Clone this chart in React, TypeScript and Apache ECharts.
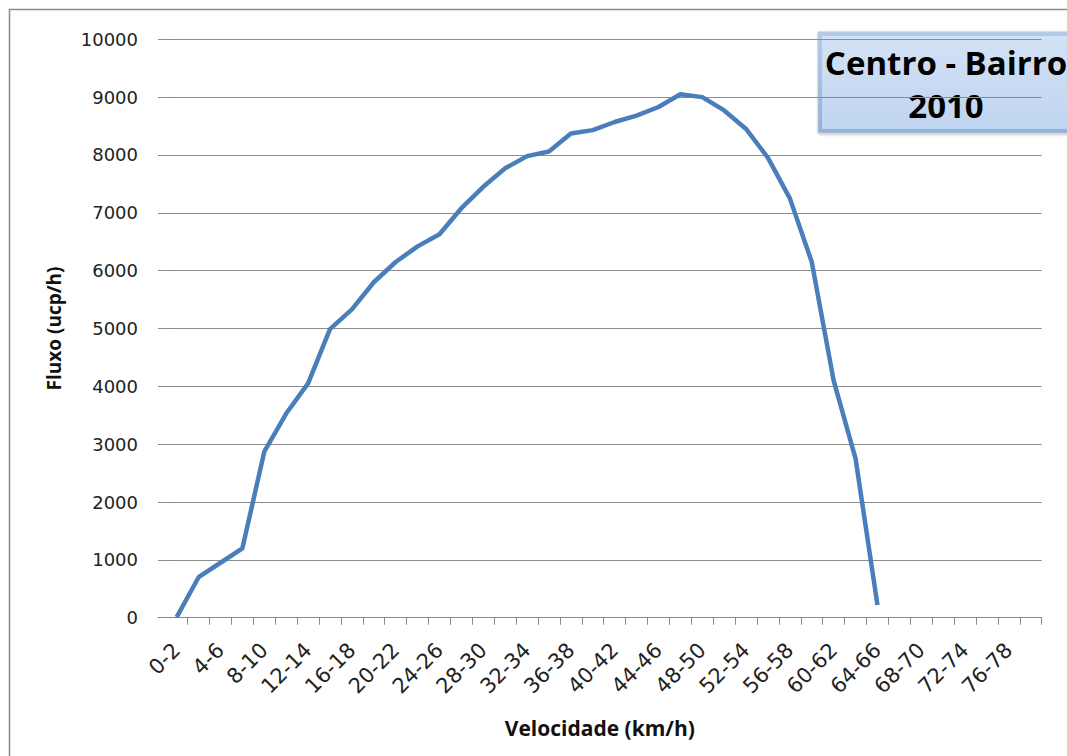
import React, { useEffect, useRef } from 'react';
import * as echarts from 'echarts';

const speedClasses = [
  '0-2', '2-4', '4-6', '6-8', '8-10', '10-12', '12-14', '14-16', '16-18', '18-20',
  '20-22', '22-24', '24-26', '26-28', '28-30', '30-32', '32-34', '34-36', '36-38', '38-40',
  '40-42', '42-44', '44-46', '46-48', '48-50', '50-52', '52-54', '54-56', '56-58', '58-60',
  '60-62', '62-64', '64-66', '66-68', '68-70', '70-72', '72-74', '74-76', '76-78', '78-80',
];

const flow = [
  10, 700, 950, 1200, 2870, 3530, 4050, 4990, 5330, 5800,
  6150, 6420, 6630, 7080, 7450, 7770, 7980, 8060, 8370, 8430,
  8570, 8680, 8830, 9050, 9000, 8770, 8450, 7950, 7250, 6150,
  4100, 2750, 220,
];

const titleLines = ['Centro - Bairro', '2010'];
const yAxisName = 'Fluxo (ucp/h)';
const xAxisName = 'Velocidade (km/h)';

export default function App() {
  const ref = useRef<HTMLDivElement>(null);

  useEffect(() => {
    const chart = echarts.init(ref.current!, null, { renderer: 'svg' });
    const data = flow.map((v, i) => [i, v]);
    const tickValues = speedClasses.map((_, i) => i + 0.5);
    const labelValues = speedClasses.map((_, i) => i).filter((i) => i % 2 === 0);

    chart.setOption({
      animation: false,
      backgroundColor: '#ffffff',
      grid: { left: 158, right: 25.3, top: 39.3, bottom: 138.3 },
      xAxis: {
        type: 'value',
        min: -0.854,
        max: 39.5,
        name: xAxisName,
        nameLocation: 'middle',
        nameGap: 100,
        nameTextStyle: { fontFamily: 'Open Sans', fontWeight: 'bold', fontSize: 21, color: '#111' },
        axisLine: { show: true, lineStyle: { color: '#888', width: 1 } },
        axisTick: { show: true, length: 7, customValues: tickValues, lineStyle: { color: '#888' } },
        splitLine: { show: false },
        axisLabel: {
          customValues: labelValues,
          rotate: 45,
          margin: 29,
          fontFamily: 'DejaVu Sans',
          fontSize: 21,
          color: '#222',
          formatter: (v: number) => speedClasses[Math.round(v)] ?? '',
        },
      },
      yAxis: {
        type: 'value',
        min: 0,
        max: 10000,
        interval: 1000,
        name: yAxisName,
        nameLocation: 'middle',
        nameRotate: 90,
        nameGap: 95,
        nameTextStyle: { fontFamily: 'Open Sans', fontWeight: 'bold', fontSize: 19, color: '#111' },
        axisLine: { show: false },
        axisTick: { show: true, length: 4, lineStyle: { color: '#888' } },
        splitLine: { show: true, lineStyle: { color: '#8c8c8c', width: 1 } },
        axisLabel: {
          fontFamily: 'DejaVu Sans',
          fontSize: 18,
          color: '#222',
          margin: 20,
          formatter: (v: number) => String(v),
        },
      },
      series: [
        {
          type: 'line',
          data,
          showSymbol: false,
          symbol: 'none',
          smooth: false,
          lineStyle: { color: '#4A7EBB', width: 4.5 },
        },
      ],
      graphic: [
        {
          type: 'rect',
          shape: { x: 9.5, y: 9.5, width: 1080, height: 780 },
          style: { fill: 'none', stroke: '#8a8a8a', lineWidth: 1.5 },
          silent: true,
        },
        {
          type: 'rect',
          shape: { x: 818, y: 32, width: 262, height: 101 },
          style: {
            fill: new echarts.graphic.LinearGradient(0, 0, 0, 1, [
              { offset: 0, color: '#b3cbe9' },
              { offset: 1, color: '#93b1d8' },
            ]),
            stroke: '#b8cbe4',
            lineWidth: 1,
            shadowColor: 'rgba(0,0,0,0.25)',
            shadowBlur: 3,
            shadowOffsetX: 1,
            shadowOffsetY: 1,
          },
          silent: true,
        },
        {
          type: 'rect',
          shape: { x: 822, y: 36, width: 262, height: 93 },
          style: {
            fill: new echarts.graphic.LinearGradient(0, 0, 0, 1, [
              { offset: 0, color: '#d3e2f5' },
              { offset: 1, color: '#c0d5ef' },
            ]),
          },
          silent: true,
        },
        {
          type: 'text',
          x: 946,
          y: 62,
          style: {
            text: titleLines[0],
            fontFamily: 'Open Sans',
            fontWeight: 'bold',
            fontSize: 33,
            fill: '#000',
            align: 'center',
            verticalAlign: 'middle',
          },
          silent: true,
        },
        {
          type: 'text',
          x: 946,
          y: 105,
          style: {
            text: titleLines[1],
            fontFamily: 'Open Sans',
            fontWeight: 'bold',
            fontSize: 33,
            fill: '#000',
            align: 'center',
            verticalAlign: 'middle',
          },
          silent: true,
        },
      ],
    });

    return () => chart.dispose();
  }, []);

  return (
    <div
      ref={ref}
      style={{ position: 'fixed', left: 0, top: 0, width: 1067, height: 756, background: '#fff' }}
    />
  );
}
